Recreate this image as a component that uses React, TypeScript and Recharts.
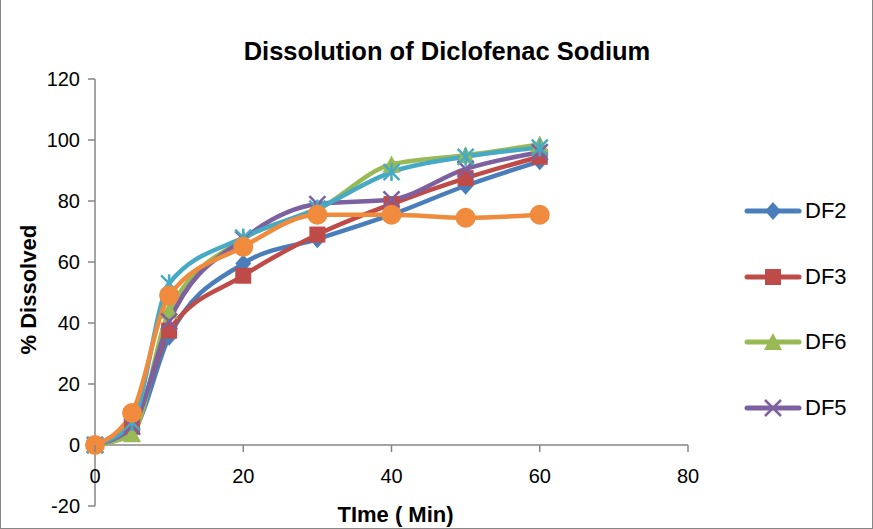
import { Line, LineChart, ReferenceLine, XAxis, YAxis } from "recharts";

// sampling times (min) and % dissolved
const times = [0, 5, 10, 20, 30, 40, 50, 60];
const df2 = [0, 4.5, 35.5, 59.5, 67.5, 75.5, 85, 93];
const df3 = [0, 6, 37.5, 55.5, 69, 79, 87.5, 94.5];
const df6 = [0, 3.5, 44, 67.5, 77, 92, 95, 98.5];
const df5 = [0, 6, 40.5, 67.5, 79, 80.5, 90.5, 96];
const df4 = [0, 7.5, 53, 68, 77.5, 89.5, 94.5, 97.5];
const df1 = [0, 10.5, 49, 65, 75.5, 75.5, 74.5, 75.5];

const xTicks = [0, 20, 40, 60, 80];
const yTicks = [-20, 0, 20, 40, 60, 80, 100, 120];

type Shape = "diamond" | "square" | "triangle" | "x" | "star" | "circle";

const series: { key: string; name: string; color: string; shape: Shape; inLegend: boolean }[] = [
  { key: "df2", name: "DF2", color: "#4A7EBB", shape: "diamond", inLegend: true },
  { key: "df3", name: "DF3", color: "#BE4B48", shape: "square", inLegend: true },
  { key: "df6", name: "DF6", color: "#98B954", shape: "triangle", inLegend: true },
  { key: "df5", name: "DF5", color: "#7D60A0", shape: "x", inLegend: true },
  { key: "df4", name: "DF4", color: "#46AAC5", shape: "star", inLegend: false },
  { key: "df1", name: "DF1", color: "#F08A3C", shape: "circle", inLegend: false },
];

const values: Record<string, number[]> = { df2, df3, df6, df5, df4, df1 };
const data = times.map((t, i) => {
  const row: Record<string, number> = { t };
  for (const s of series) row[s.key] = values[s.key][i];
  return row;
});

const W = 873;
const H = 529;
const M = { top: 79, right: 185, bottom: 0, left: 0 };
const Y_AXIS_W = 95;
const X_AXIS_H = 23;
const PLOT_H = H - M.top - X_AXIS_H;
// distance from plot bottom (-20) up to the zero line
const ZERO_UP = (PLOT_H * (0 - yTicks[0])) / (yTicks[yTicks.length - 1] - yTicks[0]);

const FONT = '"Liberation Sans", Arial, sans-serif';
const AXIS = "#868686";

function Marker({ cx, cy, shape, color }: { cx: number; cy: number; shape: Shape; color: string }) {
  const s = 8;
  switch (shape) {
    case "diamond":
      return <polygon points={`${cx},${cy - s - 1} ${cx + s},${cy} ${cx},${cy + s + 1} ${cx - s},${cy}`} fill={color} />;
    case "square":
      return <rect x={cx - s} y={cy - s} width={2 * s} height={2 * s} fill={color} />;
    case "triangle":
      return <polygon points={`${cx},${cy - s - 1} ${cx + s + 1},${cy + s} ${cx - s - 1},${cy + s}`} fill={color} />;
    case "x":
      return (
        <g stroke={color} strokeWidth={2.5}>
          <line x1={cx - s} y1={cy - s} x2={cx + s} y2={cy + s} />
          <line x1={cx - s} y1={cy + s} x2={cx + s} y2={cy - s} />
        </g>
      );
    case "star":
      return (
        <g stroke={color} strokeWidth={2.5}>
          <line x1={cx - s} y1={cy - s} x2={cx + s} y2={cy + s} />
          <line x1={cx - s} y1={cy + s} x2={cx + s} y2={cy - s} />
          <line x1={cx} y1={cy - s - 1} x2={cx} y2={cy + s + 1} />
        </g>
      );
    default:
      return <circle cx={cx} cy={cy} r={s + 2} fill={color} />;
  }
}

function XTick({ x, y, payload }: any) {
  const zy = y - ZERO_UP;
  return (
    <g>
      <line x1={x} y1={zy} x2={x} y2={zy + 7} stroke={AXIS} strokeWidth={1.5} />
      <text x={x} y={zy + 38} textAnchor="middle" fontSize={20} fill="#000" fontFamily={FONT}>
        {payload.value}
      </text>
    </g>
  );
}

export default function App() {
  return (
    <div style={{ position: "absolute", left: 0, top: 0, width: W, height: H, background: "#fff" }}>
      <LineChart width={W} height={H} data={data} margin={M} style={{ fontFamily: FONT }}>
        <text x={447} y={60} textAnchor="middle" fontSize={25.5} fontWeight="bold" fill="#000" fontFamily={FONT}>
          Dissolution of Diclofenac Sodium
        </text>
        <XAxis
          dataKey="t"
          type="number"
          domain={[0, 80]}
          ticks={xTicks}
          height={X_AXIS_H}
          axisLine={false}
          tickLine={false}
          tickSize={0}
          tickMargin={0}
          tick={<XTick />}
          label={{ value: "TIme ( Min)", position: "insideBottom", offset: 7, fontSize: 22, fontWeight: "bold", fill: "#000", dx: 4 }}
        />
        <YAxis
          type="number"
          domain={[-20, 120]}
          ticks={yTicks}
          width={Y_AXIS_W}
          axisLine={{ stroke: AXIS, strokeWidth: 1.5 }}
          tickLine={{ stroke: AXIS, strokeWidth: 1.5 }}
          tickSize={7}
          tickMargin={8}
          tick={{ fill: "#000", fontSize: 20 }}
          label={{ value: "% Dissolved", angle: -90, position: "insideLeft", offset: 28, fontSize: 22, fontWeight: "bold", fill: "#000", dy: 62 }}
        />
        <ReferenceLine y={0} stroke={AXIS} strokeWidth={1.5} />
        {series.map((s) => (
          <Line
            key={s.key}
            dataKey={s.key}
            name={s.name}
            type="monotone"
            stroke={s.color}
            strokeWidth={4.5}
            isAnimationActive={false}
            dot={(p: any) => <Marker key={`${s.key}-${p.index}`} cx={p.cx} cy={p.cy} shape={s.shape} color={s.color} />}
            activeDot={false}
          />
        ))}
      </LineChart>

      {series
        .filter((s) => s.inLegend)
        .map((s, i) => (
          <div key={s.key} style={{ position: "absolute", left: 743, top: 196 + i * 65.5, height: 30, display: "flex", alignItems: "center" }}>
            <svg width={60} height={30}>
              <line x1={4} y1={15} x2={56} y2={15} stroke={s.color} strokeWidth={5} strokeLinecap="round" />
              <Marker cx={30} cy={15} shape={s.shape} color={s.color} />
            </svg>
            <span style={{ fontFamily: FONT, fontSize: 22, color: "#000", marginLeft: 2 }}>{s.name}</span>
          </div>
        ))}

      <div
        style={{
          position: "absolute",
          left: 0,
          top: 0,
          width: W - 2,
          height: H - 1,
          borderLeft: `1px solid ${AXIS}`,
          borderRight: `1px solid ${AXIS}`,
          borderBottom: `1px solid ${AXIS}`,
          pointerEvents: "none",
        }}
      />
    </div>
  );
}
